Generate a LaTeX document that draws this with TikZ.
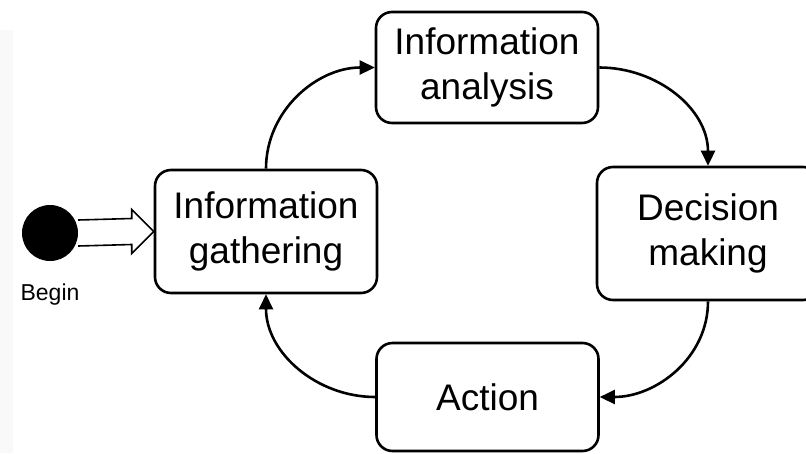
\documentclass[tikz,border=0pt]{standalone}
\usepackage{fontspec}
\setmainfont{Liberation Sans}
\usetikzlibrary{arrows.meta,calc}
\begin{document}
\begin{tikzpicture}[x=1pt,y=-1pt,
  stage/.style={draw, line width=2.6pt, rounded corners=16pt, minimum width=222pt,
    align=center, inner sep=0pt, font=\fontsize{37}{45}\selectfont},
  flow/.style={line width=2.6pt, -{Triangle[length=15pt,width=14pt]}},
  startdot/.style={circle, fill=black, minimum size=56pt, inner sep=0pt},
]
\useasboundingbox (0,0) rectangle (806,453);
% faint strip along the left edge
\fill[gray!5] (0,30) rectangle (13,453);

% the four stages of the cycle
\node[stage, minimum height=123pt] (gath) at (266,231.5) {Information\\gathering};
\node[stage, minimum height=111pt] (ana)  at (487,67.5)  {Information\\analysis};
\node[stage, minimum height=133pt] (dec)  at (708,233.5) {Decision\\making};
\node[stage, minimum height=108pt] (act)  at (487.5,397) {Action};

% cycle connectors
\draw[flow] (gath.north) to[out=90,in=180] (ana.west);
\draw[flow] (ana.east) to[out=0,in=90] (dec.north);
\draw[flow] (dec.south) to[out=-90,in=0] (act.east);
\draw[flow] (act.west) to[out=180,in=-90] (gath.south);

% start marker and its hollow arrow
\node[startdot] (begin) at (50,233) {};
\node[font=\fontsize{23}{26}\selectfont] (beginlabel) at (50,295) {Begin};
\draw[line width=1.6pt, fill=white, line join=miter]
  ($(begin.east)+(0,-13)$) -- ($(gath.west)+(-22,-13)$) -- ($(gath.west)+(-22,-22)$)
  -- (gath.west) -- ($(gath.west)+(-22,22)$) -- ($(gath.west)+(-22,13)$)
  -- ($(begin.east)+(0,13)$);
\end{tikzpicture}
\end{document}
